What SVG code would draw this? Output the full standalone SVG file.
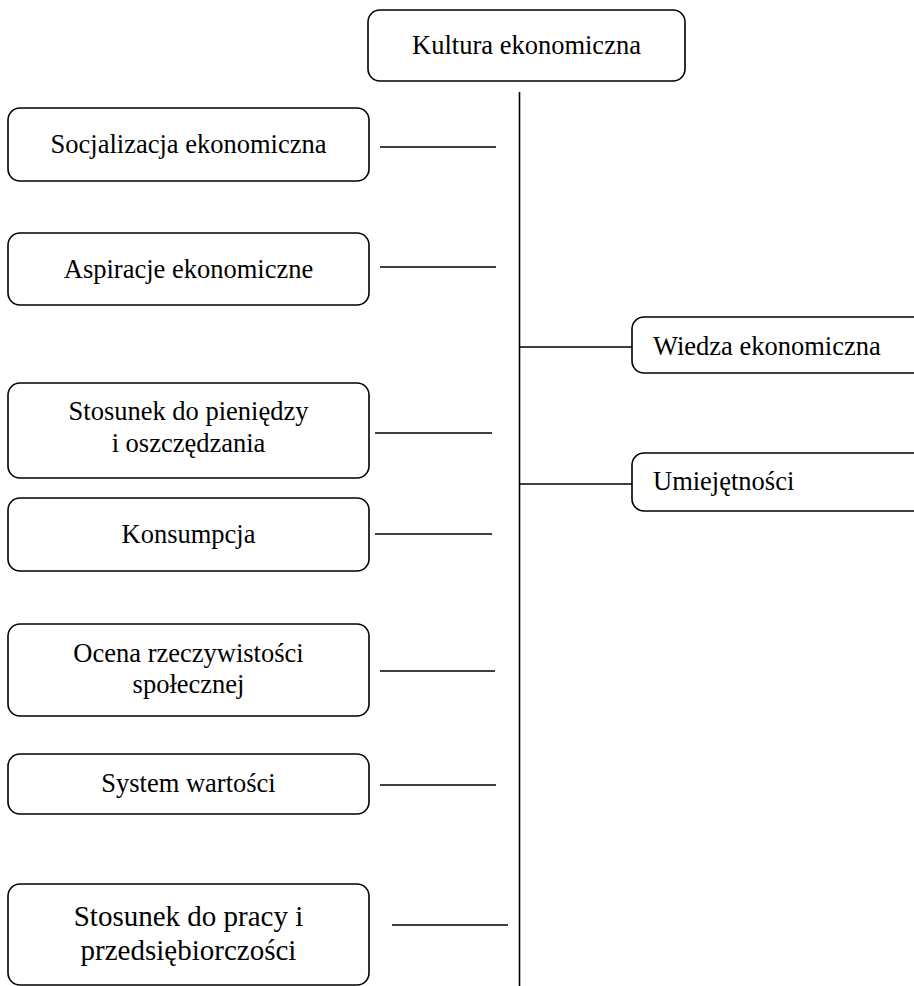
<svg xmlns="http://www.w3.org/2000/svg" width="914" height="986" viewBox="0 0 914 986">
<style>
.box{fill:#fff;stroke:#000;stroke-width:1.6}
text{font-family:'Liberation Serif','Times New Roman','DejaVu Serif',serif;font-size:26.5px;fill:#000}
.t{text-anchor:middle}
.big{font-size:29px}
.c line{stroke:#000;stroke-width:1.6}
</style>
<rect width="914" height="986" fill="#fff"/>
<g class="c" id="connectors">
<line x1="519.5" y1="92" x2="519.5" y2="986"/>
<line x1="519.5" y1="347" x2="632" y2="347"/>
<line x1="519.5" y1="484" x2="632" y2="484"/>
<line x1="380" y1="147" x2="496" y2="147"/>
<line x1="380" y1="267" x2="496" y2="267"/>
<line x1="375" y1="433" x2="492" y2="433"/>
<line x1="375" y1="534" x2="492" y2="534"/>
<line x1="380" y1="671" x2="495" y2="671"/>
<line x1="380" y1="785" x2="496" y2="785"/>
<line x1="392" y1="925" x2="508" y2="925"/>
</g>
<g font-family="Liberation Serif, serif">
<g id="kultura">
<rect class="box" x="368" y="10" width="317" height="71" rx="12"/>
<text class="t" x="526.5" y="54">Kultura ekonomiczna</text>
</g>
<g id="socjalizacja">
<rect class="box" x="8" y="108" width="361" height="73" rx="12"/>
<text class="t" x="188.5" y="153">Socjalizacja ekonomiczna</text>
</g>
<g id="aspiracje">
<rect class="box" x="8" y="233" width="361" height="72" rx="12"/>
<text class="t" x="188.5" y="278">Aspiracje ekonomiczne</text>
</g>
<g id="stosunek-pieniadze">
<rect class="box" x="8" y="383" width="361" height="95" rx="12"/>
<text class="t" x="188.5" y="420">Stosunek do pieniędzy</text>
<text class="t" x="188.5" y="452">i oszczędzania</text>
</g>
<g id="konsumpcja">
<rect class="box" x="8" y="498" width="361" height="73" rx="12"/>
<text class="t" x="188.5" y="543">Konsumpcja</text>
</g>
<g id="ocena">
<rect class="box" x="8" y="624" width="361" height="92" rx="12"/>
<text class="t" x="188.5" y="662">Ocena rzeczywistości</text>
<text class="t" x="188.5" y="693">społecznej</text>
</g>
<g id="system">
<rect class="box" x="8" y="754" width="361" height="60" rx="12"/>
<text class="t" x="188.5" y="792">System wartości</text>
</g>
<g id="stosunek-praca">
<rect class="box" x="8" y="884" width="361" height="101" rx="12"/>
<text class="t big" x="188.5" y="926">Stosunek do pracy i</text>
<text class="t big" x="188.5" y="960">przedsiębiorczości</text>
</g>
<g id="wiedza">
<rect class="box" x="632" y="317" width="300" height="56" rx="12"/>
<text x="653" y="355">Wiedza ekonomiczna</text>
</g>
<g id="umiejetnosci">
<rect class="box" x="632" y="453" width="300" height="58" rx="12"/>
<text x="653" y="490">Umiejętności</text>
</g>
</g>
</svg>
